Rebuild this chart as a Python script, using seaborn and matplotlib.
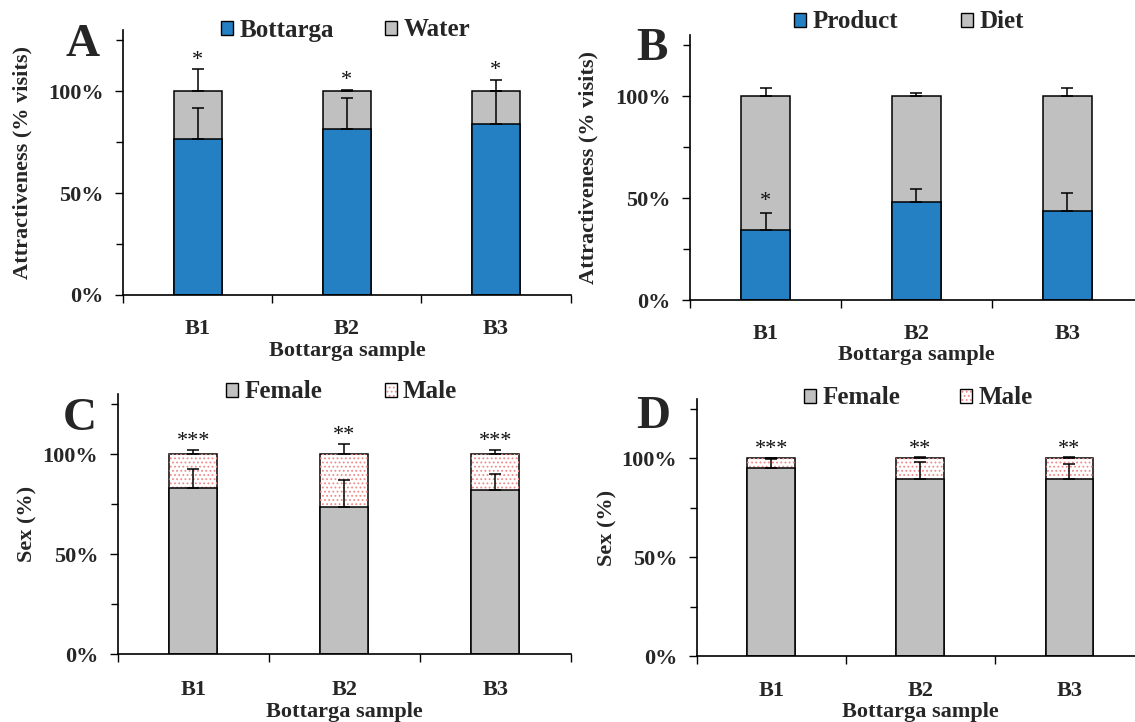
import numpy as np
import pandas as pd
import matplotlib
matplotlib.use("Agg")
import matplotlib.pyplot as plt
from matplotlib.patches import Patch
import seaborn as sns

sns.set_theme(style="white")
plt.rcParams["font.family"] = ["Liberation Serif", "DejaVu Serif"]
plt.rcParams["hatch.linewidth"] = 0.8

# ---- data -------------------------------------------------------------
samples = ["B1", "B2", "B3"]

# A: bottarga vs water (% visits)
a_bottarga = [76.7, 81.2, 83.7]
a_bottarga_err = [15.1, 15.5, 16.3]
a_water_err = [11.0, 0.8, 5.7]
a_stars = ["*", "*", "*"]

# B: product vs diet (% visits)
b_product = [34.1, 48.3, 43.6]
b_product_err = [8.5, 6.0, 8.9]
b_diet_err = [4.0, 1.5, 4.0]
b_stars = ["*", "", ""]

# C / D: sex ratio of visitors (%)
c_female = [83.0, 73.5, 81.8]
c_female_err = [9.3, 13.3, 8.4]
c_male_err = [1.8, 5.0, 1.8]
c_stars = ["***", "**", "***"]

d_female = [94.9, 89.7, 89.7]
d_female_err = [5.0, 8.6, 7.6]
d_male_err = [0.4, 0.5, 0.5]
d_stars = ["***", "**", "**"]

# ---- style ------------------------------------------------------------
BLUE = "#2480C3"
GREY = "#C0C0C0"
PINK = "#F08A8A"
W, H = 1135, 722
BAR_W = 0.32
TICK_FS = 16
LABEL_FS = 16
LEG_FS = 18

fig = plt.figure(figsize=(W / 100, H / 100), dpi=100)


def px_axes(x0, x1, y_zero, y_top):
    return fig.add_axes([x0 / W, (H - y_zero) / H, (x1 - x0) / W, (y_zero - y_top) / H])


def draw_panel(ax, lower, lower_err, upper_err, lower_color, upper_color,
               upper_hatched, stars, star_on_lower, ylabel, ylab_x, xlab_y, xpad):
    lower = np.asarray(lower, dtype=float)
    upper = 100.0 - lower
    df = pd.DataFrame({"sample": samples, "lower": lower, "total": lower + upper})

    # full-height (upper series) bars
    sns.barplot(data=df, x="sample", y="total", color=upper_color, width=BAR_W,
                saturation=1, edgecolor="black", linewidth=1.1, errorbar=None, ax=ax)
    if upper_hatched:
        n0 = len(ax.patches)
        sns.barplot(data=df, x="sample", y="total", color="white", width=BAR_W,
                    saturation=1, errorbar=None, ax=ax)
        for p in ax.patches[n0:]:
            p.set_facecolor("none")
            p.set_edgecolor(PINK)
            p.set_linewidth(0)
            p.set_hatch("....")
    # lower series drawn over it
    sns.barplot(data=df, x="sample", y="lower", color=lower_color, width=BAR_W,
                saturation=1, edgecolor="black", linewidth=1.1, errorbar=None, ax=ax)

    xs = np.arange(len(samples))
    zeros = np.zeros(len(samples))
    ax.errorbar(xs, lower, yerr=[zeros, lower_err], fmt="none", ecolor="black",
                elinewidth=1.1, capsize=4, capthick=1.1, zorder=5)
    ax.errorbar(xs, df["total"], yerr=[zeros, upper_err], fmt="none", ecolor="black",
                elinewidth=1.1, capsize=4, capthick=1.1, zorder=5)

    for i, s in enumerate(stars):
        if not s:
            continue
        if star_on_lower:
            y = lower[i] + lower_err[i] + 5.5
        else:
            y = df["total"][i] + upper_err[i] + 4.2
        ax.text(i, y, s, ha="center", va="center", fontsize=16, color="#111111")

    ax.set_xlim(-0.5, len(samples) - 0.5)
    ax.set_ylim(0, 130)
    ax.set_yticks([0, 50, 100])
    ax.set_yticklabels(["0%", "50%", "100%"], fontsize=TICK_FS, fontweight="bold")
    ax.set_yticks([25, 75, 125], minor=True)
    ax.set_xticks(xs)
    ax.set_xticklabels(samples, fontsize=TICK_FS, fontweight="bold")
    ax.set_xticks(np.arange(len(samples) + 1) - 0.5, minor=True)
    ax.tick_params(axis="x", which="major", length=0, pad=xpad)
    ax.tick_params(axis="x", which="minor", direction="out", length=6, width=1.0,
                   color="black", bottom=True)
    ax.tick_params(axis="y", which="major", direction="out", length=6, width=1.0,
                   color="black", left=True, pad=8)
    ax.tick_params(axis="y", which="minor", direction="out", length=5, width=1.0,
                   color="black", left=True)

    ax.set_ylabel(ylabel, fontsize=LABEL_FS, fontweight="bold")
    ax.set_xlabel("Bottarga sample", fontsize=LABEL_FS, fontweight="bold")
    ax.yaxis.set_label_coords(ylab_x, 0.5)
    ax.xaxis.set_label_coords(0.5, xlab_y)

    for side in ("top", "right"):
        ax.spines[side].set_visible(False)
    for side in ("left", "bottom"):
        ax.spines[side].set_color("black")
        ax.spines[side].set_linewidth(1.2)
    ax.set_facecolor("none")
    ax.grid(False)


def add_legend(handles, labels, x_px, yc_px, colspace):
    fig.legend(handles, labels, loc="center left",
               bbox_to_anchor=(x_px / W, 1 - yc_px / H), ncol=2, frameon=False,
               borderpad=0, borderaxespad=0, handlelength=0.48, handleheight=0.48,
               handletextpad=0.25, columnspacing=colspace,
               prop={"family": "Liberation Serif", "weight": "bold", "size": LEG_FS})


def panel_letter(s, x_px, base_px):
    fig.text(x_px / W, 1 - base_px / H, s, fontsize=34, fontweight="bold",
             ha="left", va="baseline")


blue_h = Patch(facecolor=BLUE, edgecolor="black", linewidth=1.0)
grey_h = Patch(facecolor=GREY, edgecolor="black", linewidth=1.0)
male_h = (Patch(facecolor="white", edgecolor=PINK, linewidth=0, hatch="...."),
          Patch(facecolor="none", edgecolor="black", linewidth=1.0))

# A
axA = px_axes(123.3, 570.5, 295, 30)
draw_panel(axA, a_bottarga, a_bottarga_err, a_water_err, BLUE, GREY, False,
           a_stars, False, "Attractiveness (% visits)", -0.202, -0.175, 17)
add_legend([blue_h, grey_h], ["Bottarga", "Water"], 221, 30, 2.06)
panel_letter("A", 65, 56)

# B
axB = px_axes(690, 1143, 300, 35)
draw_panel(axB, b_product, b_product_err, b_diet_err, BLUE, GREY, False,
           b_stars, True, "Attractiveness (% visits)", -0.203, -0.168, 17)
add_legend([blue_h, grey_h], ["Product", "Diet"], 794, 22, 2.52)
panel_letter("B", 636, 60)

# C
axC = px_axes(117.7, 570.7, 654, 394)
draw_panel(axC, c_female, c_female_err, c_male_err, GREY, "white", True,
           c_stars, False, "Sex (%)", -0.178, -0.183, 19)
add_legend([grey_h, male_h], ["Female", "Male"], 226, 392, 2.5)
panel_letter("C", 63, 430)

# D
axD = px_axes(696.7, 1144, 656, 399)
draw_panel(axD, d_female, d_female_err, d_male_err, GREY, "white", True,
           d_stars, False, "Sex (%)", -0.178, -0.18, 18)
add_legend([grey_h, male_h], ["Female", "Male"], 804, 398, 2.4)
panel_letter("D", 636, 428)

fig.savefig("out.png", dpi=100)
